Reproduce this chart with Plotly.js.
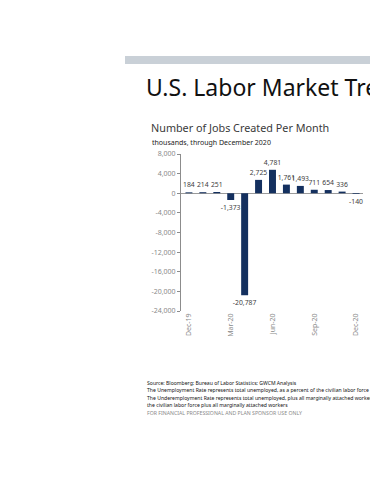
<!DOCTYPE html>
<html><head><meta charset="utf-8">
<script src="https://cdn.plot.ly/plotly-3.0.1.min.js"></script>
<style>html,body{margin:0;padding:0;background:#fff;overflow:hidden}#chart{width:370px;height:480px}</style>
</head><body><div id="chart"></div>
<script>
const months = ['Dec-19','Jan-20','Feb-20','Mar-20','Apr-20','May-20','Jun-20','Jul-20','Aug-20','Sep-20','Oct-20','Nov-20','Dec-20'];
const jobs = [184, 214, 251, -1373, -20787, 2725, 4781, 1761, 1493, 711, 654, 336, -140];
const xTickLabels = ['Dec-19','Mar-20','Jun-20','Sep-20','Dec-20'];
const yTickVals = [8000, 4000, 0, -4000, -8000, -12000, -16000, -20000, -24000];
const yTickText = ['8,000','4,000','0','-4,000','-8,000','-12,000','-16,000','-20,000','-24,000'];
const slideTitle = 'U.S. Labor Market Trends';
const chartTitle = 'Number of Jobs Created Per Month';
const chartSubtitle = 'thousands, through December 2020';
const footLines = [
  'Source: Bloomberg; Bureau of Labor Statistics; GWCM Analysis',
  'The Unemployment Rate represents total unemployed, as a percent of the civilian labor force',
  'The Underemployment Rate represents total unemployed, plus all marginally attached workers, plus total employed part time',
  'the civilian labor force plus all marginally attached workers'
];
const disclaimer = 'FOR FINANCIAL PROFESSIONAL AND PLAN SPONSOR USE ONLY';

const W = 370, H = 480;
const px = x => x / W;
const py = y => 1 - y / H;
const fmt = v => (v < 0 ? '-' : '') + Math.abs(v).toLocaleString('en-US');

const font = 'Noto Sans, sans-serif';
const trace = {
  type: 'bar', x: months, y: jobs,
  marker: {color: '#14305f'},
  text: jobs.map(fmt), textposition: 'outside', constraintext: 'none',
  textfont: {family: font, size: 6.8, color: '#404040'},
  cliponaxis: false, hoverinfo: 'none'
};

const annotations = [
  {text: slideTitle, x: px(144), y: py(87), xanchor: 'left', yanchor: 'middle', font: {family: font, size: 23, color: '#111'}},
  {text: chartTitle, x: px(149), y: py(128), xanchor: 'left', yanchor: 'middle', font: {family: font, size: 10.8, color: '#3a3a3a'}},
  {text: chartSubtitle, x: px(150), y: py(142), xanchor: 'left', yanchor: 'middle', font: {family: font, size: 7, color: '#222'}}
];
footLines.forEach((t, i) => annotations.push({text: t, x: px(145), y: py(383 + i * 7.3), xanchor: 'left', yanchor: 'middle', font: {family: font, size: 5.1, color: '#111'}}));
annotations.push({text: disclaimer, x: px(145), y: py(413), xanchor: 'left', yanchor: 'middle', font: {family: font, size: 5.2, color: '#8a8a8a'}});
annotations.forEach(a => { a.xref = 'paper'; a.yref = 'paper'; a.showarrow = false; });

const layout = {
  width: W, height: H, margin: {l: 0, r: 0, t: 0, b: 0},
  paper_bgcolor: '#fff', plot_bgcolor: 'rgba(0,0,0,0)',
  showlegend: false, bargap: 0.5,
  xaxis: {
    domain: [px(181), px(363)], range: [-0.57, 12.5], type: 'category',
    tickvals: xTickLabels, ticktext: xTickLabels, tickangle: -90,
    tickfont: {family: font, size: 7, color: '#8a8a8a'},
    showline: false, showgrid: false, zeroline: false, ticks: ''
  },
  yaxis: {
    domain: [py(311), py(154)], range: [-24000, 8000],
    tickvals: yTickVals, ticktext: yTickText,
    tickfont: {family: font, size: 7, color: '#8a8a8a'},
    showline: true, linecolor: '#8c8c8c', linewidth: 1,
    ticks: 'outside', ticklen: 3, tickcolor: '#8c8c8c',
    showgrid: false, zeroline: true, zerolinecolor: '#9a9a9a', zerolinewidth: 1
  },
  shapes: [
    {type: 'rect', xref: 'paper', yref: 'paper', x0: px(125), x1: px(370), y0: py(64), y1: py(56), fillcolor: '#c9d0d7', line: {width: 0}}
  ],
  annotations: annotations
};

Plotly.newPlot('chart', [trace], layout, {displayModeBar: false, staticPlot: true});
</script></body></html>
